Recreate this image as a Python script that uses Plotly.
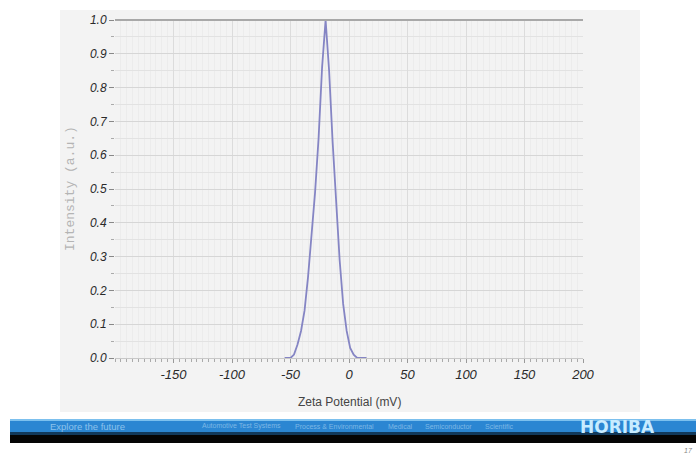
import plotly.graph_objects as go

# Data
zeta_mv = [-55, -50, -47, -44, -41, -38, -35, -32, -29, -26, -23, -20, -17, -14, -11, -8, -5, -2, 1, 4, 7, 10, 15]
intensity = [0.0, 0.0, 0.01, 0.04, 0.08, 0.14, 0.24, 0.36, 0.49, 0.65, 0.86, 1.0, 0.85, 0.64, 0.46, 0.29, 0.16, 0.08, 0.03, 0.01, 0.0, 0.0, 0.0]

x_ticks = [-150, -100, -50, 0, 50, 100, 150, 200]
y_ticks = [0.0, 0.1, 0.2, 0.3, 0.4, 0.5, 0.6, 0.7, 0.8, 0.9, 1.0]
y_tick_labels = ["%.1f" % v for v in y_ticks]

segments = ["Automotive Test Systems", "Process & Environmental", "Medical", "Semiconductor", "Scientific"]

W, H = 696, 455
L, R, T, B = 115, 583, 20, 358
pw, ph = R - L, B - T

def px(x):
    return (x - L) / pw

def py(y):
    return (B - y) / ph

fig = go.Figure()
fig.add_trace(go.Scatter(x=zeta_mv, y=intensity, mode="lines",
                         line=dict(color="#8585c4", width=1.8), hoverinfo="skip"))

shapes = [
    # grey panel behind chart
    dict(type="rect", xref="paper", yref="paper", x0=px(60), x1=px(640), y0=py(412), y1=py(10),
         fillcolor="#f3f3f3", line=dict(width=0), layer="below"),
    # top frame line
    dict(type="line", xref="paper", yref="paper", x0=0, x1=1, y0=1, y1=1,
         line=dict(color="#a8a8a8", width=2)),
    # banner
    dict(type="rect", xref="paper", yref="paper", x0=px(10), x1=px(696), y0=py(443), y1=py(419),
         fillcolor="#2b86d2", line=dict(width=0)),
    dict(type="rect", xref="paper", yref="paper", x0=px(10), x1=px(696), y0=py(421), y1=py(419),
         fillcolor="#7cc0ee", line=dict(width=0)),
    dict(type="rect", xref="paper", yref="paper", x0=px(10), x1=px(696), y0=py(436), y1=py(432),
         fillcolor="#123a5c", line=dict(width=0)),
    dict(type="rect", xref="paper", yref="paper", x0=px(10), x1=px(696), y0=py(443), y1=py(435),
         fillcolor="#050505", line=dict(width=0)),
]

annotations = [
    dict(text="Intensity (a.u.)", xref="paper", yref="paper", x=px(70), y=0.5, textangle=-90,
         xanchor="center", yanchor="middle",
         showarrow=False, font=dict(family="Liberation Mono", size=13, color="#b4b4b4")),
    dict(text="Zeta Potential (mV)", xref="paper", yref="paper", x=0.5, y=py(402),
         xanchor="center", yanchor="middle",
         showarrow=False, font=dict(family="Liberation Sans", size=12, color="#444444")),
    dict(text="Explore the future", xref="paper", yref="paper", x=px(48), y=py(426),
         xanchor="left", yanchor="middle",
         showarrow=False, font=dict(family="Liberation Sans", size=9.5, color="#8cc2ec")),
    dict(text="HORIBA", xref="paper", yref="paper", x=px(617), y=py(427),
         xanchor="center", yanchor="middle",
         showarrow=False, font=dict(family="DejaVu Sans", size=17, color="#c8ecff", weight="bold")),
    dict(text="17", xref="paper", yref="paper", x=px(688), y=py(450),
         xanchor="center", yanchor="middle",
         showarrow=False, font=dict(family="Liberation Sans", size=7, color="#888888", style="italic")),
]
seg_x = [200, 293, 386, 423, 483]
for s, sx in zip(segments, seg_x):
    annotations.append(dict(text=s, xref="paper", yref="paper", x=px(sx), y=py(426),
                            xanchor="left", yanchor="middle",
                            showarrow=False, font=dict(family="Liberation Sans", size=7, color="#7db8e6")))

fig.update_layout(
    width=W, height=H,
    margin=dict(l=L, r=W - R, t=T, b=H - B),
    paper_bgcolor="white", plot_bgcolor="white",
    showlegend=False,
    shapes=shapes, annotations=annotations,
    xaxis=dict(range=[-200, 200], tickvals=x_ticks, ticktext=[str(v) for v in x_ticks],
               showgrid=True, gridcolor="#dcdcdc", gridwidth=1, zeroline=False,
               ticks="outside", ticklen=4, tickcolor="#999999",
               tickfont=dict(family="Liberation Sans", size=13, color="#2a2a2a", style="italic"),
               showline=True, linecolor="#c8c8c8", linewidth=1,
               minor=dict(dtick=5, tick0=0, showgrid=True, gridcolor="#ececec", ticks="outside",
                          ticklen=3, tickcolor="#aaaaaa")),
    yaxis=dict(range=[0, 1.0], tickvals=y_ticks, ticktext=y_tick_labels,
               showgrid=True, gridcolor="#d6d6d6", gridwidth=1, zeroline=False,
               ticks="outside", ticklen=5, tickcolor="#888888",
               tickfont=dict(family="Liberation Sans", size=12, color="#2a2a2a", style="italic"),
               minor=dict(dtick=0.05, tick0=0, showgrid=True, gridcolor="#e2e2e2", ticks="outside",
                          ticklen=3, tickcolor="#aaaaaa")),
)

fig.write_html("out.html")
